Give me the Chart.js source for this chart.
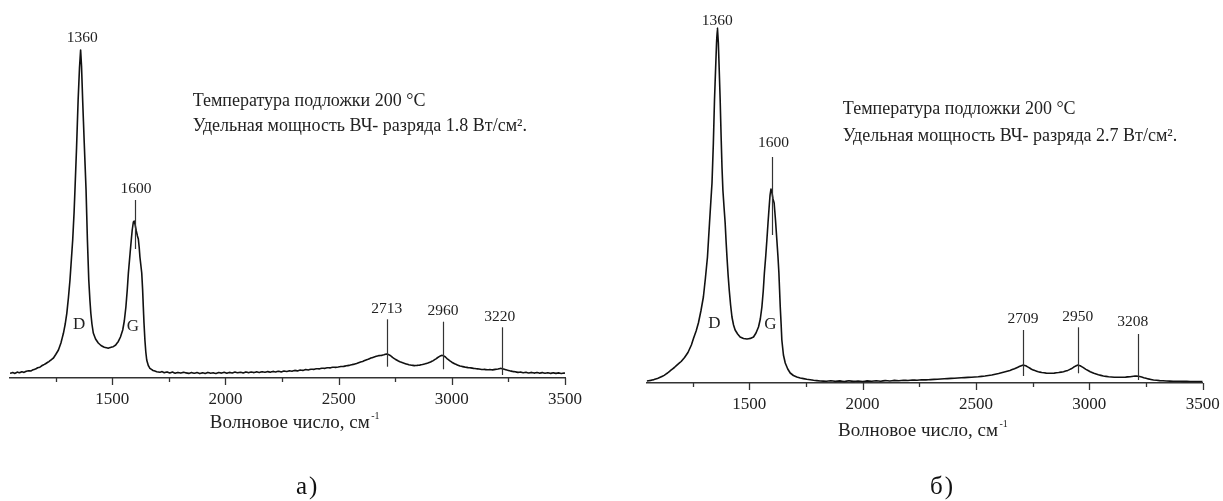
<!DOCTYPE html>
<html><head><meta charset="utf-8">
<script src="https://cdn.jsdelivr.net/npm/chart.js@4.4.1/dist/chart.umd.min.js"></script>
<style>
html,body{margin:0;padding:0;background:#fff;width:1223px;height:501px;overflow:hidden;}
canvas{position:absolute;top:0;}
#ca{left:0;}
#cb{left:612px;}
.cap{position:absolute;font-family:'Liberation Serif','Times New Roman',serif;font-size:25px;color:#111;top:472px;line-height:28px;letter-spacing:2px;}
</style></head><body>
<canvas id="ca" width="610" height="501"></canvas>
<canvas id="cb" width="611" height="501"></canvas>
<div class="cap" style="left:296px">а)</div>
<div class="cap" style="left:930px">б)</div>
<script>
// ---------- data ----------
const X_TICK_VALUES = [1250,1500,1750,2000,2250,2500,2750,3000,3250,3500];
const X_MAJOR_TICKS = [1500,2000,2500,3000,3500];
const X_MAJOR_LABELS = ['1500','2000','2500','3000','3500'];
const X_TITLE = 'Волновое число, см';
const X_TITLE_SUP = '-1';

// spectrum (a): wavenumber, cm-1 / intensity, a.u.
const A_WAVENUMBER = [1048,1060,1070,1080,1090,1100,1110,1120,1130,1140,1150,1160,1170,1180,1190,1200,1210,1220,1230,1240,1250,1262,1273,1284,1292,1299,1306,1313,1319,1325,1331,1335,1342,1349,1355,1360,1364,1369,1376,1384,1390,1396,1401,1405,1410,1416,1426,1438,1450,1462,1475,1482,1492,1504,1515,1526,1536,1546,1553,1560,1566,1571,1576,1581,1585,1588,1593,1597,1601,1606,1611,1615,1619,1622,1626,1630,1634,1637,1640,1644,1648,1652,1659,1666,1680,1696,1710,1720,1730,1742,1754,1766,1778,1790,1802,1814,1826,1838,1850,1862,1874,1886,1898,1910,1922,1934,1946,1958,1970,1982,1994,2006,2018,2030,2042,2054,2066,2078,2090,2102,2114,2126,2138,2150,2162,2174,2186,2198,2210,2222,2234,2246,2258,2270,2282,2294,2306,2318,2330,2342,2354,2366,2378,2390,2402,2414,2426,2438,2450,2462,2474,2486,2498,2510,2522,2534,2546,2558,2570,2582,2594,2606,2618,2630,2642,2654,2666,2678,2690,2700,2707,2713,2720,2728,2738,2750,2762,2774,2786,2798,2810,2822,2834,2846,2858,2870,2882,2894,2906,2918,2930,2940,2948,2955,2962,2970,2980,2990,3000,3012,3024,3036,3048,3060,3072,3084,3096,3108,3120,3132,3144,3156,3168,3180,3192,3204,3214,3222,3232,3244,3256,3268,3280,3292,3304,3316,3328,3340,3352,3364,3376,3388,3400,3412,3424,3436,3448,3460,3472,3484,3496,3500];
const A_INTENSITY = [4.7,5.5,4.6,5.9,5.2,6.3,5.6,6.8,7.2,7.0,8.3,8.9,10.2,10.8,12.5,13.6,15.0,16.4,18.2,20.0,23.5,28,35,44.7,54,64.7,80,98,118,138,165,188,230,278,310,328,312,278,235,188,138,98,78,65,54,45,39,35,32.5,31,30.2,29.8,30.5,31.3,33,36.3,41,48,57,71,88,105,118,131,141,148,156,157,153,147,142,139,130,121,113,105,88,71,55,38,26,18,12.5,9.7,7.5,6.3,5.8,6.4,5.2,6.1,5.0,5.9,4.8,5.6,4.9,5.8,5.1,4.6,5.5,4.7,5.4,4.4,5.3,4.6,5.6,4.8,5.2,4.5,5.5,4.9,5.7,4.8,5.6,5.0,6.0,5.2,5.8,5.0,6.1,5.3,6.0,5.4,6.2,5.5,6.3,5.7,6.4,5.8,6.6,6.0,6.8,6.1,7.0,6.5,7.2,6.8,7.6,7.1,7.9,7.6,8.4,8.0,8.8,8.6,9.3,9.1,9.8,9.6,10.3,10.1,10.8,10.6,11.0,11.5,11.6,12.2,12.6,13.3,13.9,14.8,15.8,16.6,17.8,18.8,19.9,20.8,21.7,22.4,22.6,23.2,23.8,24.0,23.4,22.5,20.6,18.8,17.2,15.9,15.0,14.1,13.2,12.8,12.4,12.6,12.9,13.5,14.2,15.0,16.0,17.4,19.2,20.8,21.9,22.6,22.4,21.3,19.2,17.4,15.8,14.2,13.1,12.0,11.4,10.8,10.4,10.1,9.6,9.3,9.0,8.5,8.6,8.2,8.4,8.1,8.6,9.0,9.6,9.4,8.8,7.9,7.2,6.6,6.2,5.6,5.9,5.2,5.7,5.0,5.6,4.9,5.5,4.8,5.4,4.7,5.3,4.6,5.2,4.6,5.1,4.5,5.0,4.8];

// spectrum (б)
const B_WAVENUMBER = [1048,1065,1080,1095,1110,1125,1140,1155,1170,1185,1200,1215,1230,1245,1255,1266,1276,1287,1298,1307,1316,1325,1331,1336,1342,1347,1352,1356,1360,1364,1368,1372,1376,1380,1384,1389,1394,1398,1402,1407,1412,1418,1424,1431,1438,1449,1460,1475,1490,1505,1519,1530,1541,1549,1556,1562,1567,1573,1578,1583,1588,1592,1596,1600,1605,1610,1616,1622,1627,1631,1634,1637,1641,1644,1651,1659,1670,1681,1695,1710,1725,1754,1784,1813,1840,1860,1880,1900,1920,1940,1960,1980,2000,2020,2040,2060,2080,2100,2120,2140,2160,2180,2200,2220,2240,2260,2280,2300,2330,2360,2390,2420,2450,2480,2510,2540,2570,2600,2625,2650,2670,2685,2697,2709,2720,2732,2745,2760,2775,2790,2810,2827,2845,2865,2886,2905,2920,2930,2940,2950,2960,2972,2985,3004,3020,3040,3062,3085,3110,3136,3160,3180,3195,3208,3222,3240,3260,3283,3310,3340,3370,3400,3430,3460,3500];
const B_INTENSITY = [2,2.6,3.4,4.4,6.0,7.6,10,12.8,15.5,18.6,21.5,25.5,30.5,38,45,52,60,72,86,105,126,160,182,200,240,283,315,340,355,340,312,283,248,216,193,176,160,142,126,108,93,78,66,58,53,49,46,44.5,44,44.6,46,50,56,64,76,92,110,127,143,160,176,188,194,191,184,180,163,143,126,110,93,76,58,43,28,20,14,10,7.5,6,5,3.7,2.7,2.0,1.8,2.3,1.6,2.1,1.5,2.2,1.6,2.0,1.5,2.1,1.7,2.3,1.8,2.4,2.0,2.6,2.2,2.7,2.5,2.9,2.8,3.2,3.1,3.4,3.8,4.2,4.6,5.0,5.4,5.8,6.3,7.0,8.0,9.5,11.0,12.6,14.3,15.8,17.0,18,17.2,15.6,13.8,12.4,11.3,10.5,9.9,9.7,9.9,10.5,11.3,12.6,14.2,15.7,17.0,18,17.2,15.6,13.6,11.3,9.7,8.2,7.0,6.2,5.8,5.7,5.9,6.3,6.8,7.0,6.5,5.3,4.1,3.0,2.4,2.0,1.8,1.7,1.6,1.5,1.5];

const A_PEAK_LABELS = ['1360','1600','2713','2960','3220'];
const B_PEAK_LABELS = ['1360','1600','2709','2950','3208'];
const BAND_LABELS = ['D','G'];
const A_NOTE = ['Температура подложки 200 °C','Удельная мощность ВЧ- разряда 1.8 Вт/см²','.'];
const B_NOTE = ['Температура подложки 200 °C','Удельная мощность ВЧ- разряда 2.7 Вт/см²','.'];

// ---------- drawing ----------
const SERIF = "'Liberation Serif','Times New Roman',serif";

const decor = {
  id: 'decor',
  afterDraw(chart, args, o) {
    const ctx = chart.ctx, xs = chart.scales.x, ys = chart.scales.y;
    const px = v => xs.getPixelForValue(v), py = v => ys.getPixelForValue(v);
    ctx.save();
    ctx.strokeStyle = '#333'; ctx.lineWidth = 1.3;
    // ticks (major / minor)
    X_TICK_VALUES.forEach(v => {
      const x = Math.round(px(v)) + 0.5;
      const len = X_MAJOR_TICKS.includes(v) ? o.majorLen : o.minorLen;
      ctx.beginPath(); ctx.moveTo(x, xs.top); ctx.lineTo(x, xs.top + len); ctx.stroke();
    });
    // axis title with superscript
    ctx.fillStyle = '#222';
    ctx.textAlign = 'left'; ctx.textBaseline = 'alphabetic';
    ctx.font = o.titleSize + 'px ' + SERIF;
    const tx = px(o.title.x), tyb = xs.top + o.title.dy;
    ctx.fillText(X_TITLE, tx, tyb);
    const w = ctx.measureText(X_TITLE).width;
    ctx.font = '10px ' + SERIF;
    ctx.fillText(X_TITLE_SUP, tx + w + 1.5, tyb - 9);
    // peak markers
    ctx.strokeStyle = '#333'; ctx.lineWidth = 1.2;
    o.markers.forEach(m => {
      const x = Math.round(px(m.x)) + 0.5;
      ctx.beginPath(); ctx.moveTo(x, py(m.top)); ctx.lineTo(x, py(m.bottom)); ctx.stroke();
    });
    // peak labels
    ctx.textAlign = 'center'; ctx.textBaseline = 'middle';
    ctx.font = o.labelSize + 'px ' + SERIF;
    o.labels.forEach(l => ctx.fillText(l.text, px(l.x), py(l.y)));
    ctx.font = o.bandSize + 'px ' + SERIF;
    o.bands.forEach(l => ctx.fillText(l.text, px(l.x), py(l.y)));
    // note
    ctx.textAlign = 'left';
    ctx.font = o.noteSize + 'px ' + SERIF;
    const nx = px(o.note.x);
    ctx.fillText(o.note.lines[0], nx, py(o.note.y1));
    const l2 = o.note.lines[1];
    ctx.fillText(l2, nx, py(o.note.y2));
    ctx.fillText(o.note.lines[2], nx + ctx.measureText(l2).width, py(o.note.y2));
    ctx.restore();
  }
};

function makeChart(id, wn, inten, yMax, padL, padR, axisH, decorOpts) {
  return new Chart(document.getElementById(id), {
    type: 'line',
    data: { datasets: [{
      data: wn.map((x, i) => ({ x, y: inten[i] })),
      borderColor: '#111', borderWidth: 1.6, pointRadius: 0, tension: 0.0001,
      borderJoinStyle: 'round', fill: false
    }]},
    options: {
      responsive: false, animation: false, devicePixelRatio: 1,
      layout: { padding: { left: padL, right: padR, top: 0, bottom: 0 } },
      plugins: { legend: { display: false }, tooltip: { enabled: false }, decor: decorOpts },
      scales: {
        x: {
          type: 'linear', min: 1048, max: 3500,
          afterBuildTicks: s => { s.ticks = X_TICK_VALUES.map(v => ({ value: v })); },
          afterFit: s => { s.height = axisH; s.paddingLeft = 0; s.paddingRight = 0; },
          grid: { display: false, drawTicks: false, tickLength: 0 },
          border: { display: true, color: '#333', width: 1.6 },
          ticks: {
            padding: 11.1, color: '#222', maxRotation: 0, autoSkip: false,
            font: { family: SERIF, size: 17 },
            callback: v => { const i = X_MAJOR_TICKS.indexOf(v); return i >= 0 ? X_MAJOR_LABELS[i] : ''; }
          },
          title: { display: false }
        },
        y: { type: 'linear', display: false, min: 0, max: yMax }
      }
    },
    plugins: [decor]
  });
}

makeChart('ca', A_WAVENUMBER, A_INTENSITY, 378, 10, 45, 123, {
  majorLen: 7, minorLen: 4, labelSize: 15.5, bandSize: 17, noteSize: 18, titleSize: 19,
  title: { x: 1931, dy: 50.3 },
  markers: [{x:1600, top:178, bottom:129},{x:2713, top:58.7, bottom:11.3},{x:2960, top:56.3, bottom:8.7},{x:3220, top:50.7, bottom:3}],
  labels: [{text:A_PEAK_LABELS[0], x:1367, y:340},{text:A_PEAK_LABELS[1], x:1605, y:188.7},
           {text:A_PEAK_LABELS[2], x:2712, y:68.7},{text:A_PEAK_LABELS[3], x:2961, y:67.3},{text:A_PEAK_LABELS[4], x:3212, y:61.3}],
  bands: [{text:BAND_LABELS[0], x:1353, y:53},{text:BAND_LABELS[1], x:1591, y:51.3}],
  note: { x:1855, y1:276.3, y2:251.3, lines:A_NOTE }
});

makeChart('cb', B_WAVENUMBER, B_INTENSITY, 383, 34.7, 20.3, 118, {
  majorLen: 7, minorLen: 4, labelSize: 15.5, bandSize: 17, noteSize: 18, titleSize: 19,
  title: { x: 1892, dy: 53 },
  markers: [{x:1601, top:226, bottom:148},{x:2709, top:53, bottom:7},{x:2950, top:55.7, bottom:9.7},{x:3214, top:49, bottom:3}],
  labels: [{text:B_PEAK_LABELS[0], x:1359, y:362},{text:B_PEAK_LABELS[1], x:1607, y:240.3},
           {text:B_PEAK_LABELS[2], x:2707, y:64},{text:B_PEAK_LABELS[3], x:2949, y:66.3},{text:B_PEAK_LABELS[4], x:3192, y:60.7}],
  bands: [{text:BAND_LABELS[0], x:1347, y:59.7},{text:BAND_LABELS[1], x:1594, y:58}],
  note: { x:1913, y1:273.7, y2:247, lines:B_NOTE }
});
</script>
</body></html>
